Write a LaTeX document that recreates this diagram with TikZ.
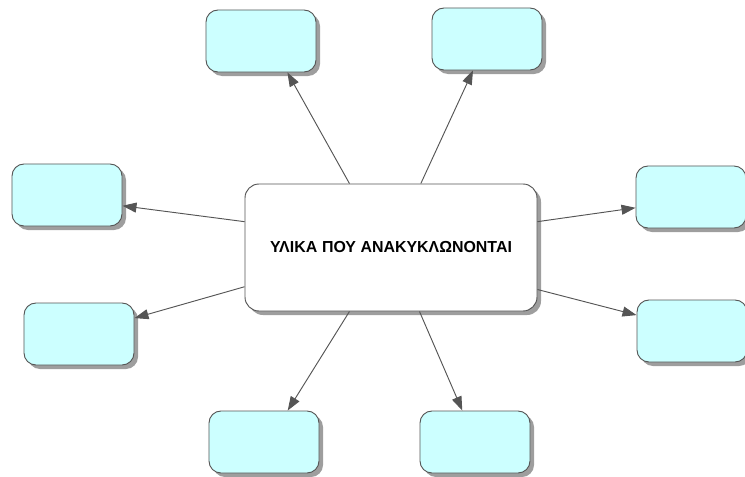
\documentclass[tikz,border=0pt]{standalone}
\usepackage{fontspec}
\setmainfont{Liberation Sans}
\usepackage{xcolor}
\usetikzlibrary{positioning, arrows.meta, shadows}

\definecolor{boxfill}{HTML}{CCFFFF}
\definecolor{boxline}{HTML}{555555}

\begin{document}
\begin{tikzpicture}[x=0.03cm, y=-0.03cm]
						\tikzstyle{item}=[draw=boxline, line width=0.8pt, fill=boxfill, rounded corners=0.36cm,
							minimum width=3.3cm, minimum height=1.86cm,
							drop shadow={shadow xshift=0.12cm, shadow yshift=-0.12cm, fill=black, opacity=0.38}]
						\tikzstyle{link}=[boxline, line width=0.8pt, -{Triangle[length=0.42cm, width=0.3cm]}]
						\useasboundingbox (0,0) rectangle (745,477);
						\node[item, fill=white, minimum width=8.76cm, minimum height=3.81cm, rounded corners=0.42cm,
							font=\bfseries\fontsize{13.6}{16}\selectfont](v0) at (391,247.5) {ΥΛΙΚΑ\hspace{0.3em}ΠΟΥ ΑΝΑΚΥΚΛΩΝΟΝΤΑΙ};
						\node[item](v1) at (261,41) {};
						\node[item](v2) at (487,39) {};
						\node[item](v3) at (67,195) {};
						\node[item](v4) at (691,197) {};
						\node[item](v5) at (79,334) {};
						\node[item](v6) at (692,331) {};
						\node[item](v7) at (264,442) {};
						\node[item](v8) at (475,442) {};
						\draw[link](v0.123) -- (v1.310);
						\draw[link](v0.65) -- (v2.246);
						\draw[link](v0.170.5) -- (v3.349);
						\draw[link](v0.10) -- (v4.191.5);
						\draw[link](v0.195.5) -- (v5.16);
						\draw[link](v0.344.5) -- (v6.164);
						\draw[link](v0.237) -- (v7.53.4);
						\draw[link](v0.294.5) -- (v8.112.8);
					\end{tikzpicture}
\end{document}
